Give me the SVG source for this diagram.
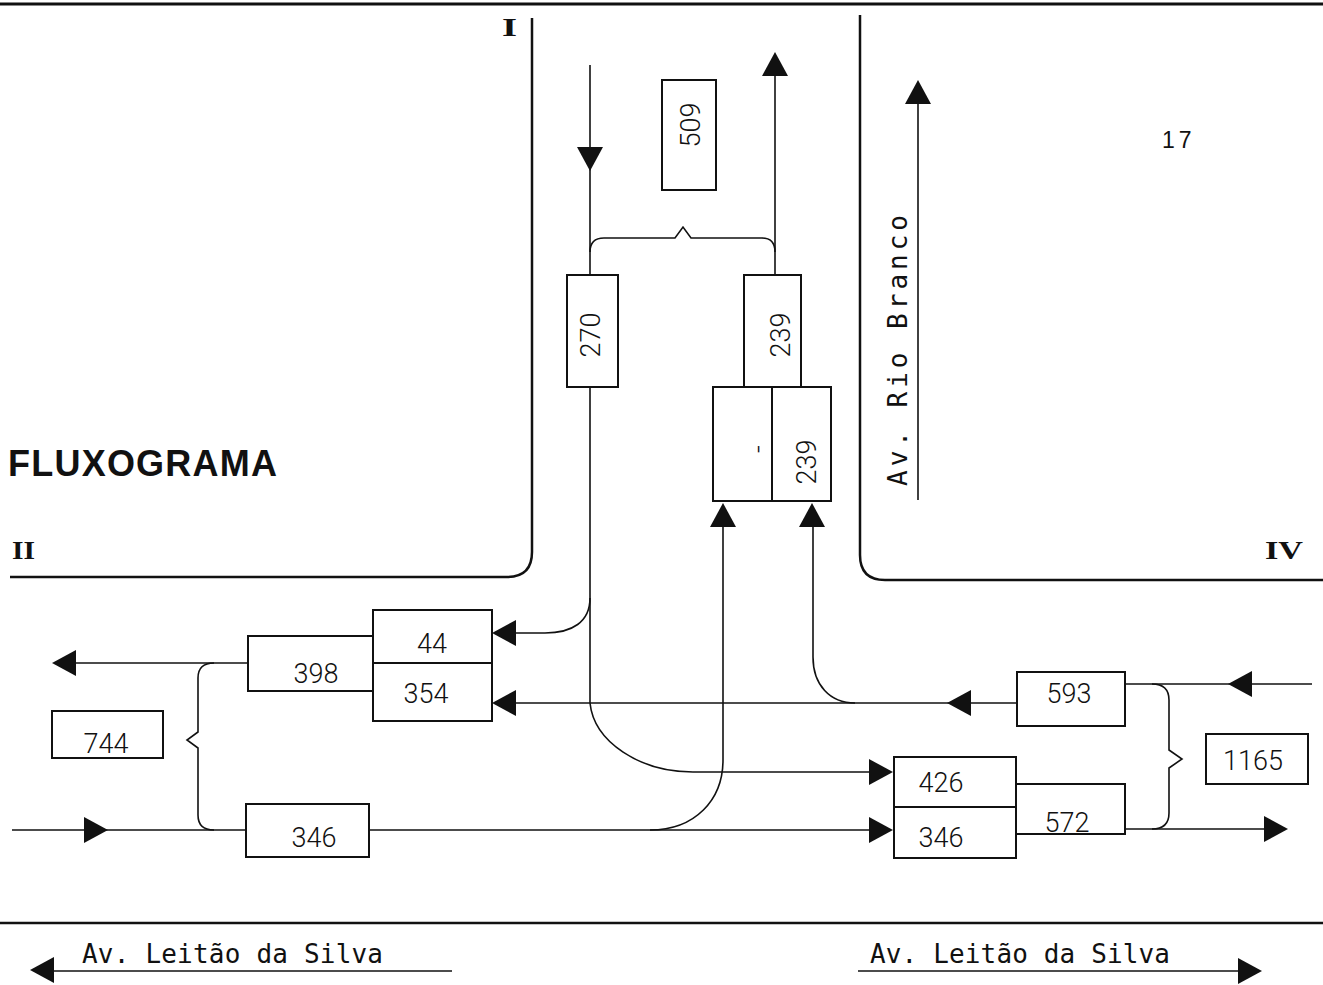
<svg xmlns="http://www.w3.org/2000/svg" xmlns:xlink="http://www.w3.org/1999/xlink" width="1323" height="985" viewBox="0 0 1323 985">
<style>
.road{fill:none;stroke:#111;stroke-width:2.5}
.flow{fill:none;stroke:#111;stroke-width:1.6}
.box{fill:#fff;stroke:#111;stroke-width:2}
.num{font-family:Roboto,"Liberation Sans",Arial,sans-serif;font-weight:300;font-size:27px;fill:#111;text-anchor:middle}
.street{font-family:"DejaVu Sans Mono","Liberation Mono",monospace;font-size:26px;fill:#111}
.roman{font-family:"Liberation Serif","Times New Roman",serif;font-weight:bold;font-size:26px;fill:#111}
</style>
<defs>
<path id="ah" d="M0,0 L-24,-13 L-24,13 Z" fill="#111"/>
</defs>
<rect width="1323" height="985" fill="#fff"/>

<g id="roads">
<line x1="0" y1="4" x2="1323" y2="4" stroke="#111" stroke-width="3"/>
<path class="road" d="M532,18 V552 Q532,577 507,577 H10"/>
<path class="road" d="M860,15 V555 Q860,580 885,580 H1323"/>
<line x1="0" y1="923" x2="1323" y2="923" stroke="#111" stroke-width="2.5"/>
</g>

<g id="labels">
<text class="roman" x="502" y="36" textLength="15" lengthAdjust="spacingAndGlyphs">I</text>
<text class="roman" x="12" y="559" textLength="23" lengthAdjust="spacingAndGlyphs">II</text>
<text class="roman" x="1265" y="559" textLength="38" lengthAdjust="spacingAndGlyphs">IV</text>
<text x="8" y="476" font-family="Liberation Sans,Arial,sans-serif" font-weight="bold" font-size="36" fill="#111" textLength="269" lengthAdjust="spacing">FLUXOGRAMA</text>
<text x="1162" y="148" font-family="Liberation Sans,Arial,sans-serif" font-size="23" fill="#111" letter-spacing="4">17</text>
<text class="street" x="82" y="963" textLength="301" lengthAdjust="spacing">Av. Leitão da Silva</text>
<text class="street" x="870" y="963" textLength="300" lengthAdjust="spacing">Av. Leitão da Silva</text>
<text class="street" transform="translate(907,486) rotate(-90)" x="0" y="0" textLength="271" lengthAdjust="spacing" font-size="28">Av. Rio Branco</text>
</g>

<g id="connectors">
<path class="flow" d="M53,971 H452"/>
<use xlink:href="#ah" transform="translate(30,970) rotate(180)"/>
<path class="flow" d="M858,971 H1240"/>
<use xlink:href="#ah" transform="translate(1262,971)"/>
<path class="flow" d="M918,500 V100"/>
<use xlink:href="#ah" transform="translate(918,80) rotate(-90)"/>

<path class="flow" d="M590,65 V275"/>
<use xlink:href="#ah" transform="translate(590,171) rotate(90)"/>
<path class="flow" d="M775,275 V70"/>
<use xlink:href="#ah" transform="translate(775,52) rotate(-90)"/>
<path class="flow" d="M590,252 Q590,238 604,238 H675 L683,227 L691,238 H762 Q775,238 775,252"/>

<path class="flow" d="M590,387 V703 C594,742 640,772 693,772 H875"/>
<path class="flow" d="M590,598 C590,622 572,633 545,633 H505"/>
<use xlink:href="#ah" transform="translate(492,633) rotate(180)"/>
<use xlink:href="#ah" transform="translate(893,772)"/>

<path class="flow" d="M1017,703 H505"/>
<use xlink:href="#ah" transform="translate(492,703) rotate(180)"/>
<use xlink:href="#ah" transform="translate(947,703) rotate(180)"/>
<path class="flow" d="M813,520 V657 C813,685 830,703 855,703"/>
<use xlink:href="#ah" transform="translate(812,503) rotate(-90)"/>
<path class="flow" d="M723,520 V760 C723,800 695,830 650,830"/>
<use xlink:href="#ah" transform="translate(723,503) rotate(-90)"/>

<path class="flow" d="M248,663 H65"/>
<use xlink:href="#ah" transform="translate(52,663) rotate(180)"/>
<path class="flow" d="M12,830 H246"/>
<use xlink:href="#ah" transform="translate(108,830)"/>
<path class="flow" d="M369,830 H880"/>
<use xlink:href="#ah" transform="translate(893,830)"/>
<path class="flow" d="M214,663 Q198,663 198,678 V732 L187,740 L198,748 V815 Q198,830 214,830"/>

<path class="flow" d="M1125,684 H1312"/>
<use xlink:href="#ah" transform="translate(1228,684) rotate(180)"/>
<path class="flow" d="M1125,829 H1270"/>
<use xlink:href="#ah" transform="translate(1288,829)"/>
<path class="flow" d="M1152,684 Q1169,684 1169,700 V750 L1182,759 L1169,768 V813 Q1169,829 1152,829"/>
</g>

<g id="n509"><rect class="box" x="662" y="80" width="54" height="110"/><text class="num" transform="translate(700,125) rotate(-90)">509</text></g>
<g id="n270"><rect class="box" x="567" y="275" width="51" height="112"/><text class="num" transform="translate(600,335) rotate(-90)">270</text></g>
<g id="n239a"><rect class="box" x="744" y="275" width="57" height="112"/><text class="num" transform="translate(790,335) rotate(-90)">239</text></g>
<g id="nlower"><rect class="box" x="713" y="387" width="118" height="114"/><line x1="772" y1="387" x2="772" y2="501" stroke="#111" stroke-width="2"/><text class="num" transform="translate(767,449) rotate(-90)" font-weight="normal">-</text><text class="num" transform="translate(816,462) rotate(-90)">239</text></g>
<g id="n398"><rect class="box" x="248" y="636" width="125" height="55"/><text class="num" x="316" y="683">398</text></g>
<g id="n44"><rect class="box" x="373" y="610" width="119" height="53"/><text class="num" x="432" y="653">44</text></g>
<g id="n354"><rect class="box" x="373" y="663" width="119" height="58"/><text class="num" x="426" y="703">354</text></g>
<g id="n744"><rect class="box" x="52" y="711" width="111" height="47"/><text class="num" x="106" y="753">744</text></g>
<g id="n346a"><rect class="box" x="246" y="804" width="123" height="53"/><text class="num" x="314" y="847">346</text></g>
<g id="n593"><rect class="box" x="1017" y="672" width="108" height="54"/><text class="num" x="1069" y="703">593</text></g>
<g id="n572"><rect class="box" x="1016" y="784" width="109" height="50"/><text class="num" x="1067" y="832">572</text></g>
<g id="n426"><rect class="box" x="894" y="757" width="122" height="50"/><text class="num" x="941" y="792">426</text></g>
<g id="n346b"><rect class="box" x="894" y="807" width="122" height="51"/><text class="num" x="941" y="847">346</text></g>
<g id="n1165"><rect class="box" x="1206" y="734" width="102" height="50"/><text class="num" x="1253" y="770">1165</text></g>
</svg>
